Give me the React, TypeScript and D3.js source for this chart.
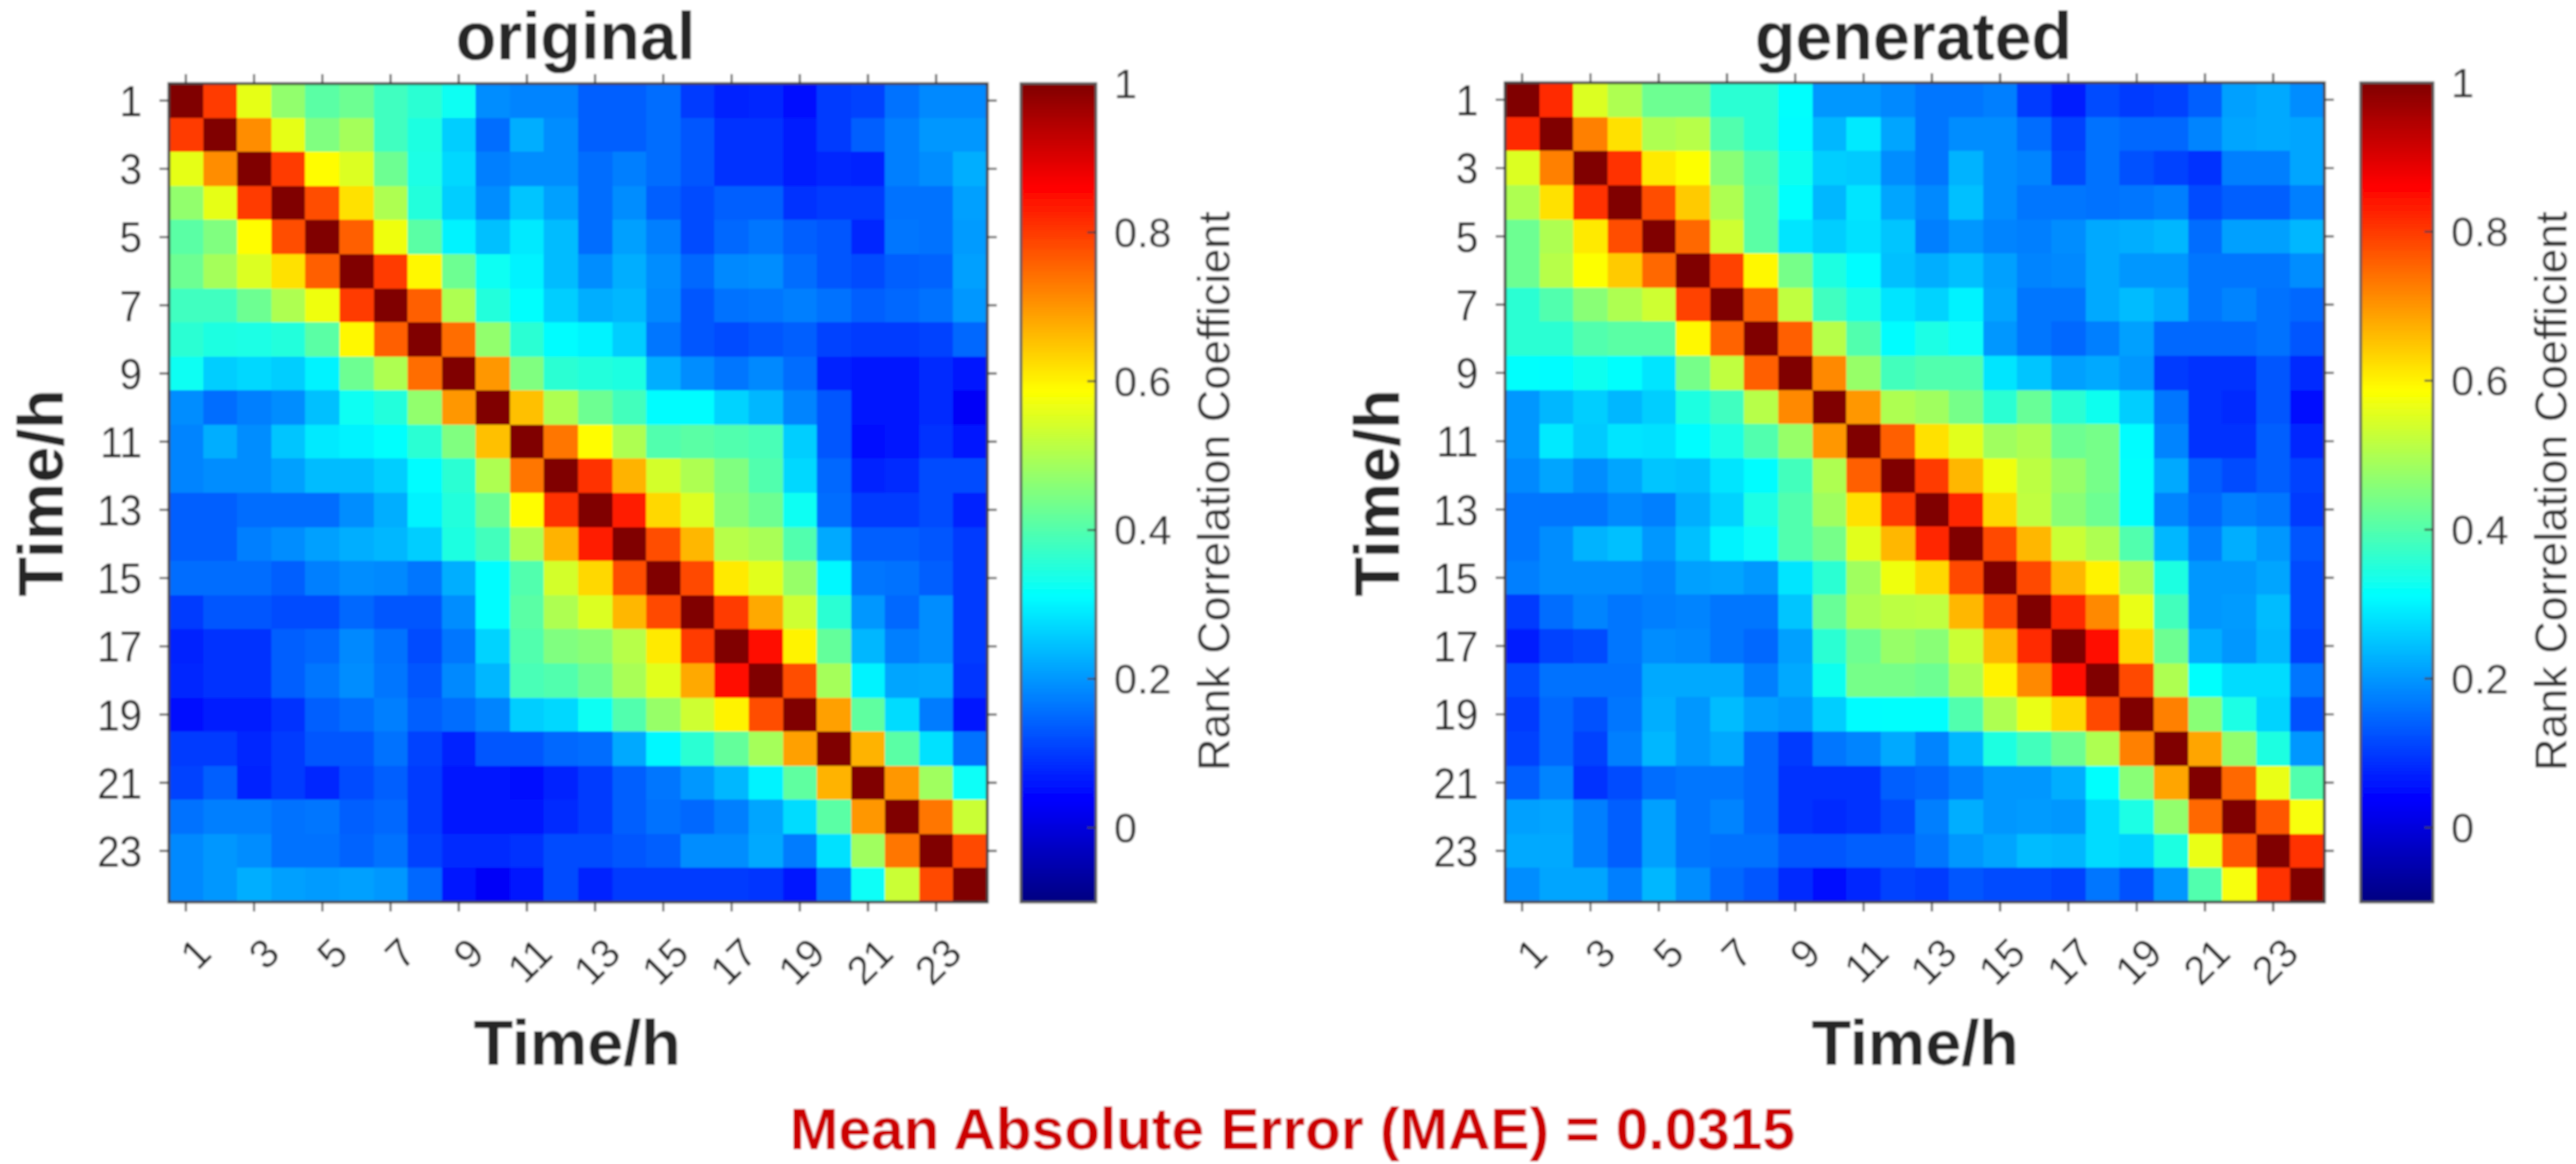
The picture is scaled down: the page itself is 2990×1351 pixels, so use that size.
import React from "react";
import * as d3 from "d3";

// Lower triangles (row i holds columns 1..i-1); the matrices are symmetric with unit diagonal.
const originalRows: number[][] = [
  [],
  [.80],
  [.56,.71],
  [.47,.56,.80],
  [.41,.45,.59,.78],
  [.43,.49,.55,.62,.76],
  [.38,.38,.43,.50,.57,.80],
  [.36,.345,.34,.35,.41,.595,.76],
  [.325,.26,.27,.26,.30,.43,.50,.745],
  [.19,.155,.175,.19,.245,.325,.35,.47,.70],
  [.18,.225,.19,.25,.29,.30,.315,.36,.45,.655],
  [.18,.19,.19,.21,.24,.24,.26,.31,.36,.50,.735],
  [.14,.14,.155,.155,.155,.19,.225,.30,.35,.43,.59,.81],
  [.14,.14,.175,.19,.21,.225,.235,.26,.345,.385,.50,.67,.83],
  [.155,.155,.155,.14,.175,.19,.185,.165,.225,.31,.40,.54,.63,.78],
  [.10,.13,.13,.12,.12,.15,.13,.13,.19,.31,.41,.50,.55,.665,.785],
  [.075,.09,.09,.14,.15,.185,.16,.12,.165,.265,.40,.45,.46,.51,.61,.80],
  [.08,.09,.09,.14,.165,.19,.165,.13,.185,.235,.39,.40,.43,.495,.555,.68,.85],
  [.055,.07,.07,.09,.14,.155,.175,.14,.155,.18,.26,.27,.325,.40,.475,.535,.60,.78],
  [.10,.10,.08,.10,.13,.13,.16,.11,.075,.13,.13,.15,.155,.22,.305,.36,.42,.49,.69],
  [.11,.14,.075,.10,.08,.12,.14,.10,.06,.06,.055,.075,.10,.14,.165,.20,.235,.30,.415,.67],
  [.16,.175,.175,.16,.165,.14,.15,.10,.06,.065,.06,.085,.10,.14,.16,.15,.175,.215,.275,.41,.70],
  [.185,.20,.19,.16,.16,.145,.16,.11,.085,.085,.09,.12,.12,.13,.14,.19,.19,.22,.17,.28,.485,.735],
  [.185,.20,.225,.21,.205,.21,.20,.15,.06,.03,.06,.12,.075,.10,.10,.10,.10,.095,.06,.16,.32,.53,.785],
];

const generatedRows: number[][] = [
  [],
  [.815],
  [.55,.725],
  [.50,.62,.81],
  [.43,.50,.61,.78],
  [.43,.51,.585,.645,.75],
  [.36,.40,.46,.50,.535,.79],
  [.36,.36,.40,.41,.41,.595,.755],
  [.315,.31,.33,.315,.285,.44,.52,.76],
  [.20,.235,.26,.235,.26,.345,.38,.51,.715],
  [.20,.29,.255,.285,.28,.31,.34,.40,.475,.70],
  [.185,.215,.19,.215,.25,.245,.285,.31,.385,.50,.76],
  [.165,.165,.165,.185,.175,.225,.265,.34,.40,.485,.62,.80],
  [.165,.19,.23,.245,.20,.245,.30,.32,.40,.44,.555,.665,.82],
  [.175,.19,.19,.19,.18,.21,.215,.20,.285,.36,.485,.57,.63,.785],
  [.10,.155,.18,.165,.175,.18,.165,.165,.25,.425,.50,.515,.52,.665,.785],
  [.07,.11,.12,.165,.19,.185,.165,.15,.21,.36,.43,.475,.46,.53,.665,.815],
  [.12,.16,.16,.16,.22,.22,.22,.175,.22,.33,.44,.44,.43,.50,.60,.715,.85],
  [.10,.15,.125,.165,.225,.20,.24,.21,.20,.26,.31,.315,.315,.40,.50,.565,.63,.785],
  [.11,.15,.11,.175,.235,.20,.22,.15,.10,.165,.18,.22,.18,.235,.345,.385,.43,.50,.725],
  [.14,.18,.09,.12,.155,.165,.165,.15,.09,.09,.09,.14,.15,.175,.20,.20,.225,.315,.46,.685],
  [.21,.215,.175,.14,.21,.165,.18,.15,.09,.085,.09,.12,.175,.225,.20,.205,.20,.275,.34,.47,.75],
  [.22,.22,.175,.14,.21,.165,.16,.16,.13,.13,.14,.14,.165,.20,.215,.24,.235,.275,.265,.345,.565,.77],
  [.19,.215,.215,.175,.235,.19,.15,.13,.085,.055,.08,.11,.10,.13,.12,.12,.11,.165,.125,.20,.40,.58,.81],
];

const hours: number[] = d3.range(1, 25);
const tickHours: number[] = d3.range(1, 24, 2);
const colorbarTicks: number[] = [0, 0.2, 0.4, 0.6, 0.8, 1];
const colorDomain: [number, number] = [-0.1, 1];
const jetStops = ["#000080", "#0000ff", "#00ffff", "#ffff00", "#ff0000", "#800000"];
const jetPositions = [0, 0.125, 0.375, 0.625, 0.875, 1];

const jet = d3
  .scaleLinear<string>()
  .domain(jetPositions.map((p) => colorDomain[0] + p * (colorDomain[1] - colorDomain[0])))
  .range(jetStops)
  .interpolate(d3.interpolateRgb)
  .clamp(true);

const INK = "#262626";
const FRAME = "#3c3c3c";
const FONT = "'Liberation Sans', Arial, sans-serif";
const BAR_STEPS = 256;

function full(rows: number[][]): number[][] {
  return hours.map((_, i) =>
    hours.map((_, j) => (i === j ? 1 : i > j ? rows[i][j] : rows[j][i]))
  );
}

type PanelProps = {
  title: string;
  rows: number[][];
  x0: number;
  x1: number;
  y0: number;
  y1: number;
  barX0: number;
  barX1: number;
  titleX: number;
  xLabelX: number;
};

function Panel({ title, rows, x0, x1, y0, y1, barX0, barX1, titleX, xLabelX }: PanelProps) {
  const m = full(rows);
  const x = d3.scaleBand<number>().domain(hours).range([x0, x1]);
  const y = d3.scaleBand<number>().domain(hours).range([y0, y1]);
  const cx = (h: number) => x(h)! + x.bandwidth() / 2;
  const cy = (h: number) => y(h)! + y.bandwidth() / 2;
  const cbar = d3.scaleLinear().domain(colorDomain).range([y1, y0]);
  const barSteps = d3.range(0, BAR_STEPS);
  const barValue = (i: number) =>
    colorDomain[0] + ((i + 0.5) / BAR_STEPS) * (colorDomain[1] - colorDomain[0]);
  const barEdge = (i: number) =>
    colorDomain[0] + (i / BAR_STEPS) * (colorDomain[1] - colorDomain[0]);
  const tick = 11;
  return (
    <g>
      <text x={titleX} y={69} textAnchor="middle" fontFamily={FONT} fontWeight="bold" fontSize={77} fill={INK}>
        {title}
      </text>
      <g shapeRendering="crispEdges">
        {m.map((row, i) =>
          row.map((v, j) => (
            <rect
              key={`${i}-${j}`}
              x={x(hours[j])}
              y={y(hours[i])}
              width={x.bandwidth() + 0.5}
              height={y.bandwidth() + 0.5}
              fill={jet(v)}
            />
          ))
        )}
      </g>
      <rect x={x0} y={y0} width={x1 - x0} height={y1 - y0} fill="none" stroke={FRAME} strokeWidth={3} />
      {tickHours.map((h) => (
        <g key={h} stroke={FRAME} strokeWidth={2.2}>
          <line x1={cx(h)} x2={cx(h)} y1={y1} y2={y1 + tick} />
          <line x1={cx(h)} x2={cx(h)} y1={y0} y2={y0 - tick} />
          <line x1={x0} x2={x0 - tick} y1={cy(h)} y2={cy(h)} />
          <line x1={x1} x2={x1 + tick} y1={cy(h)} y2={cy(h)} />
        </g>
      ))}
      {tickHours.map((h) => (
        <text
          key={`yl${h}`}
          transform={`translate(${x0 - 31},${cy(h)}) scale(1,1.08)`}
          dy="0.36em"
          textAnchor="end"
          fontFamily={FONT}
          fontSize={47}
          fill={INK}
        >
          {h}
        </text>
      ))}
      {tickHours.map((h) => (
        <text
          key={`xl${h}`}
          transform={`translate(${cx(h) + 32},${y1 + 62}) rotate(-45)`}
          textAnchor="end"
          fontFamily={FONT}
          fontSize={47}
          fill={INK}
        >
          {h}
        </text>
      ))}
      <text
        transform={`translate(${x0 - 123},572) rotate(-90)`}
        textAnchor="middle"
        fontFamily={FONT}
        fontWeight="bold"
        fontSize={75}
        fill={INK}
      >
        Time/h
      </text>
      <text x={xLabelX} y={1236} textAnchor="middle" fontFamily={FONT} fontWeight="bold" fontSize={75} fill={INK}>
        Time/h
      </text>
      <g shapeRendering="crispEdges">
        {barSteps.map((i) => (
          <rect
            key={i}
            x={barX0}
            width={barX1 - barX0}
            y={cbar(barEdge(i + 1))}
            height={cbar(barEdge(i)) - cbar(barEdge(i + 1)) + 0.5}
            fill={jet(barValue(i))}
          />
        ))}
      </g>
      <rect x={barX0} y={y0} width={barX1 - barX0} height={y1 - y0} fill="none" stroke="#555" strokeWidth={3} />
      {colorbarTicks.map((t) => (
        <g key={t}>
          {t < 1 && <line x1={barX1} x2={barX1 - 10} y1={cbar(t)} y2={cbar(t)} stroke={FRAME} strokeWidth={2} />}
          <text x={barX1 + 21} y={cbar(t)} dy="0.36em" fontFamily={FONT} fontSize={48} fill="#333">
            {t}
          </text>
        </g>
      ))}
      <text
        transform={`translate(${barX1 + 155},570) rotate(-90)`}
        textAnchor="middle"
        fontFamily={FONT}
        fontSize={52}
        fill="#333"
      >
        Rank Correlation Coefficient
      </text>
    </g>
  );
}

export default function App() {
  return (
    <svg
      width={2990}
      height={1351}
      viewBox="0 0 2990 1351"
      style={{ position: "fixed", left: 0, top: 0, display: "block", background: "#fff" }}
    >
      <defs>
        <filter id="soft" x="0" y="0" width="100%" height="100%" filterUnits="userSpaceOnUse" primitiveUnits="userSpaceOnUse">
          <feGaussianBlur stdDeviation="0.9" />
        </filter>
      </defs>
      <g filter="url(#soft)">
        <rect x={0} y={0} width={2990} height={1351} fill="#fff" />
        <Panel title="original" rows={originalRows} x0={196} x1={1146} y0={97} y1={1047} barX0={1185} barX1={1272} titleX={668} xLabelX={670} />
        <Panel title="generated" rows={generatedRows} x0={1747} x1={2698} y0={96} y1={1047} barX0={2740} barX1={2824} titleX={2221} xLabelX={2223} />
        <text x={1500} y={1334} textAnchor="middle" fontFamily={FONT} fontWeight="bold" fontSize={68} fill="#cc0000">
          Mean Absolute Error (MAE) = 0.0315
        </text>
      </g>
    </svg>
  );
}
